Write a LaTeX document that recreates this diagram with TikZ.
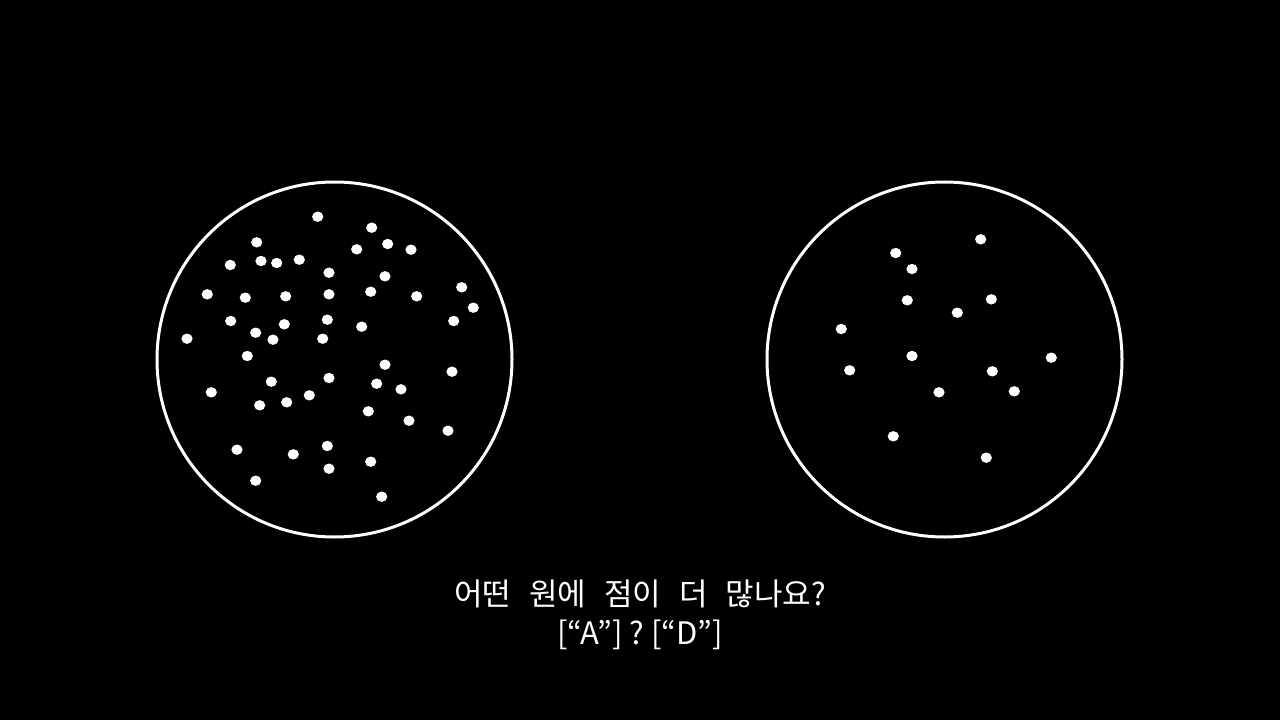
\documentclass[tikz,border=0pt]{standalone}
\usepackage{fontspec}
\newfontfamily\krfont{Noto Sans CJK KR}
\newcommand\wgap{\hspace{18bp}}
\tikzset{
  plate/.style={draw=white,line width=3bp,circle,minimum size=355bp,inner sep=0pt},
  spot/.style={fill=white,draw=none},
  question/.style={text=white,font=\krfont\fontsize{31bp}{39bp}\selectfont,align=center}
}
\begin{document}
\begin{tikzpicture}[x=1bp,y=-1bp]
\fill[black] (0,0) rectangle (1280,720);
\useasboundingbox (0,0) rectangle (1280,720);
\node[plate] (plateA) at (334.5,359.5) {};
\node[plate] (plateD) at (944.5,359.5) {};
% left circle, many dots
\foreach \x/\y in {317.7/216.7,371.7/227.7,256.7/242.3,387.7/244,356.7/249.3,411/249.7,
  230.3/265,261/261,276.7/263,299.3/259.7,329/272.7,385/276.3,207.3/294.3,245.3/297.7,
  285.7/296.3,329/294.3,370.7/291.7,416.7/296.3,461.7/287.3,473.3/307.7,453.7/321,
  230.7/321,284.3/324.3,327.3/319.7,361.7/326.7,255.7/332.7,273/339.7,322.7/338.7,
  187/338.7,247.3/356,385/364.7,452/371.7,329/378,271.3/381.7,376.7/383.7,401/389.3,
  211.3/392.3,309.3/395.3,286.7/402.3,259.7/405.3,368.3/411.3,409/420.7,448/430.7,
  237/449.7,293.3/454.3,327.3/446,370.7/461.7,329/468.7,255.7/480.7,381.7/496.7}
  \fill[spot] (\x,\y) ellipse (5.6bp and 5.2bp);
% right circle, few dots
\foreach \x/\y in {980.7/239.3,895.7/253,912/269,907.3/300.3,991.3/299.3,957.3/312.7,
  841.3/329,912/356,1051.3/357.7,849.7/370.3,992.3/371.3,939/392.3,1014.3/391.3,
  893.3/436.3,986.3/457.7}
  \fill[spot] (\x,\y) ellipse (5.6bp and 5.2bp);
\node[question] (ask) at (640,615) {어떤\wgap 원에\wgap 점이\wgap 더\wgap 많나요?\\{[}“A”{]} ? {[}“D”{]}};
\end{tikzpicture}
\end{document}
